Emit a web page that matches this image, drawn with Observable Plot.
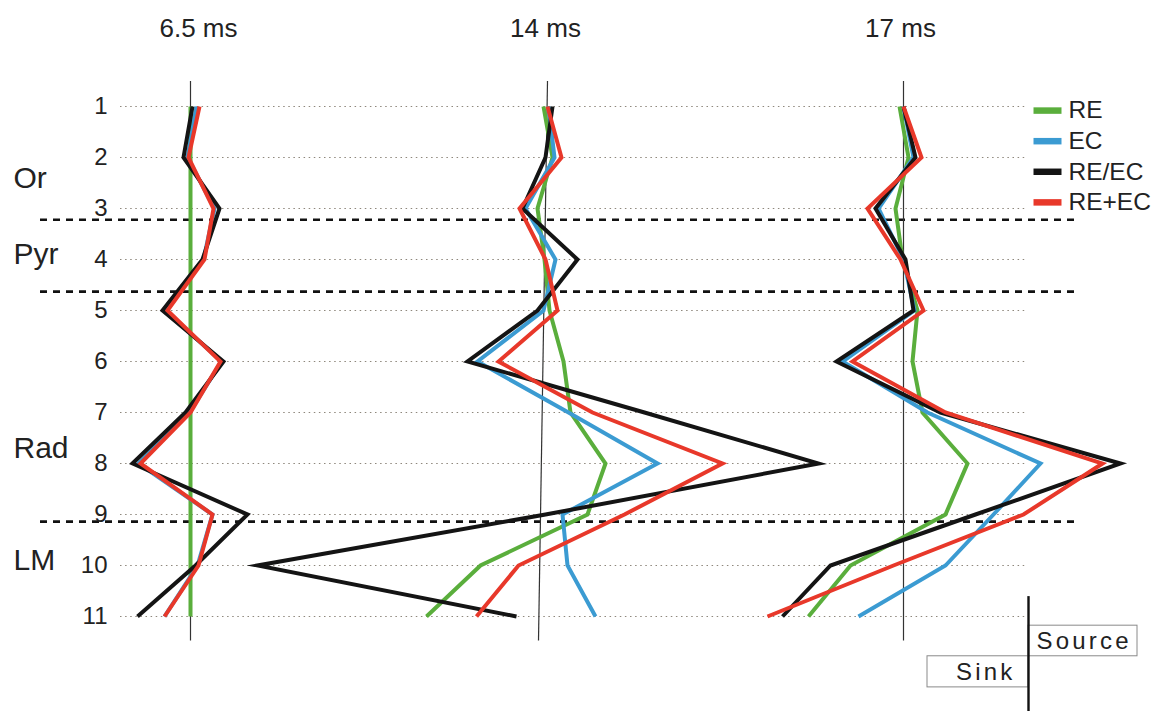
<!DOCTYPE html>
<html>
<head>
<meta charset="utf-8">
<script src="https://cdn.jsdelivr.net/npm/d3@7"></script>
<script src="https://cdn.jsdelivr.net/npm/@observablehq/plot@0.6"></script>
<style>
  body { margin: 0; background: #fff; }
  #chart svg { display: block; }
</style>
</head>
<body>
<div id="chart"></div>
<script>
// ---- data ----
const rows = [1, 2, 3, 4, 5, 6, 7, 8, 9, 10, 11];
const panels = ["6.5 ms", "14 ms", "17 ms"];
const panelCenters = [0, 352, 713];          // zero line of each panel (a.u.)
const zeroTop = [0, 5, 0];                   // zero line tilt, top end (a.u.)
const zeroBottom = [0, -4, 0];               // zero line tilt, bottom end (a.u.)
const series = ["RE", "EC", "RE/EC", "RE+EC"];
const colors = ["#5aae3c", "#3b9bd2", "#141414", "#e8382a"];
const layers = ["Or", "Pyr", "Rad", "LM"];
const layerRows = [2.4, 3.9, 7.7, 9.9];
const boundaries = [3.22, 4.63, 9.14];

// CSD profiles (a.u.), electrode rows 1..11
const RE_65    = [0, 0, 0, 0, 0, 0, 0, 0, 0, 0, 0];
const EC_65    = [6, -3, 24, 13, -25, 31, -1, -52, 22, 7, -26];
const REEC_65  = [2, -7, 29, 12, -28, 33, -5, -58, 57, 5, -53];
const RPE_65   = [9, -2, 23, 14, -23, 30, 0, -50, 22, 8, -26];

const RE_14    = [1, 10, -5, 2, 7, 21, 28, 63, 45, -62, -116];
const EC_14    = [6, 12, -17, 13, 1, -65, 26, 115, 20, 25, 53];
const REEC_14  = [10, 3, -20, 35, -5, -75, 102, 276, 3, -285, -26];
const RPE_14   = [5, 19, -23, 3, 15, -44, 50, 180, 82, -24, -66];

const RE_17    = [-4, 5, -8, -1, 14, 9, 19, 64, 42, -53, -95];
const EC_17    = [0, 10, -25, 0, 11, -61, 24, 137, 90, 42, -45];
const REEC_17  = [0, 12, -28, 2, 10, -67, 37, 217, 72, -73, -121];
const RPE_17   = [0, 18, -36, -3, 20, -51, 42, 199, 120, -10, -136];

const profiles = {
  "RE":    [RE_65, RE_14, RE_17],
  "EC":    [EC_65, EC_14, EC_17],
  "RE/EC": [REEC_65, REEC_14, REEC_17],
  "RE+EC": [RPE_65, RPE_14, RPE_17]
};

// ---- build tables ----
const pts = [];
series.forEach(s => {
  panels.forEach((p, pi) => {
    profiles[s][pi].forEach((v, ri) => {
      pts.push({series: s, panel: p, key: s + "|" + p, row: rows[ri], value: v, x: panelCenters[pi] + v});
    });
  });
});
const zeroLines = panels.map((p, i) => ({panel: p, x1: panelCenters[i] + zeroTop[i], x2: panelCenters[i] + zeroBottom[i]}));
const legendRows = series.map((s, i) => ({series: s, y: 1.08 + i * 0.6}));
const titleShift = [8, 3, -3];

const font = "'Liberation Sans', Arial, Helvetica, sans-serif";

const chart = Plot.plot({
  width: 1160,
  height: 711,
  marginLeft: 118,
  marginTop: 0,
  marginRight: 0,
  marginBottom: 0,
  style: {fontFamily: font, background: "#fff", color: "#222"},
  x: {domain: [-190, 970], range: [0, 1160], axis: null},
  y: {domain: [1, 11], range: [106, 616], axis: null},
  color: {domain: series, range: colors},
  marks: [
    // dotted electrode rows
    Plot.ruleY(rows, {y: d => d, x1: -70, x2: 835, stroke: "#8e877c", strokeWidth: 1.1, strokeDasharray: "1.5,3.6"}),
    // dashed layer boundaries
    Plot.ruleY(boundaries, {y: d => d, x1: -150, x2: 885, stroke: "#111", strokeWidth: 2.6, strokeDasharray: "7,6"}),
    // zero lines
    Plot.link(zeroLines, {x1: "x1", x2: "x2", y1: 0.5, y2: 11.47, stroke: "#333", strokeWidth: 1.2}),
    // profiles
    Plot.line(pts, {x: "x", y: "row", z: "key", stroke: "series", strokeWidth: 4, strokeLinejoin: "miter", strokeMiterlimit: 10, strokeLinecap: "butt"}),
    // row axis
    Plot.axisY(rows, {anchor: "left", tickSize: 0, tickPadding: 11, fontSize: 24, tickFormat: d => d, fill: "#222"}),
    // layer names
    Plot.text(layers, {x: -177, y: (d, i) => layerRows[i], text: d => d, textAnchor: "start", fontSize: 30, fill: "#222"}),
    // panel titles
    Plot.text(panels, {x: (d, i) => panelCenters[i] + titleShift[i], y: -0.53, text: d => d, fontSize: 26, fill: "#222"}),
    // legend
    Plot.link(legendRows, {x1: 843, x2: 871, y1: "y", y2: "y", stroke: "series", strokeWidth: 6.5}),
    Plot.text(legendRows, {x: 878, y: "y", text: "series", textAnchor: "start", fontSize: 24.5, fill: "#222"}),
    // source / sink key
    Plot.rect([{x1: 838, x2: 947, y1: 11.18, y2: 11.78}, {x1: 737, x2: 838, y1: 11.78, y2: 12.39}],
      {x1: "x1", x2: "x2", y1: "y1", y2: "y2", fill: "#fff", stroke: "#8a8a8a", strokeWidth: 1}),
    Plot.text(["Source"], {x: 846, y: 11.48, text: d => d, textAnchor: "start", fontSize: 24, fill: "#222"}),
    Plot.text(["Sink"], {x: 825, y: 12.09, text: d => d, textAnchor: "end", fontSize: 24, fill: "#222"}),
    Plot.ruleX([838], {x: d => d, y1: 10.61, y2: 12.9, stroke: "#111", strokeWidth: 2.4})
  ]
});

d3.select(chart).selectAll("text")
  .filter(function() { return this.textContent === "Source" || this.textContent === "Sink"; })
  .attr("letter-spacing", 3.2);

document.getElementById("chart").appendChild(chart);
</script>
</body>
</html>
